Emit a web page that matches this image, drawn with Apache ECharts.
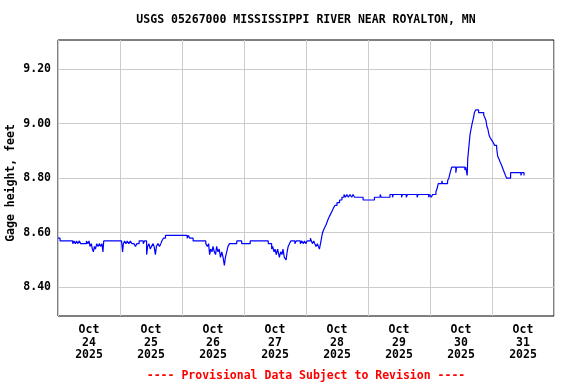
<!DOCTYPE html>
<html>
<head>
<meta charset="utf-8">
<script src="https://cdn.jsdelivr.net/npm/echarts@6/dist/echarts.min.js"></script>
<style>html,body{margin:0;padding:0;background:#fff}#c{width:576px;height:384px}</style>
</head>
<body>
<div id="c"></div>
<script>
// Categories (days), tick labels
var dayLabels = ['Oct\n24\n2025','Oct\n25\n2025','Oct\n26\n2025','Oct\n27\n2025','Oct\n28\n2025','Oct\n29\n2025','Oct\n30\n2025','Oct\n31\n2025'];
var yTicks = [8.40, 8.60, 8.80, 9.00, 9.20];

// Hours since Oct 24 2025 00:00 and gage height (feet)
var hours = [
0,0.8,5.7,6.2,6.7,7.2,7.6,8.3,8.8,9.5,11.0,11.6,12.0,12.4,12.9,13.3,13.7,14.1,14.5,15.0,15.5,16.0,16.6,17.0,17.4,17.7,
24.6,25.0,25.3,25.8,26.3,26.8,27.4,28.0,28.6,29.4,30.0,30.5,31.4,33.0,33.5,34.3,34.7,35.2,35.7,36.2,36.8,37.2,37.7,38.1,38.7,39.3,39.8,40.2,40.8,41.6,
50.0,50.5,51.0,52.3,57.2,57.8,58.3,58.7,59.1,59.6,60.0,60.5,61.0,61.4,61.9,62.4,62.9,63.4,63.9,64.4,64.8,65.3,65.8,66.4,69.2,71.1,74.4,81.4,
82.7,83.1,83.6,84.0,84.5,85.0,85.7,86.2,86.7,87.1,87.6,88.3,88.7,89.1,89.6,90.1,91.7,92.2,93.8,94.3,95.0,95.4,96.0,96.4,97.7,98.1,98.5,99.0,99.4,99.9,100.4,100.8,101.2,
101.6,102.0,102.4,102.8,103.3,103.8,104.2,104.6,105.1,105.6,106.1,106.6,107.2,108.0,109.0,109.9,110.7,111.3,111.8,112.4,113.0,113.7,114.2,114.8,118.1,122.5,124.7,125.1,
128.5,129.5,129.8,133.0,133.3,134.8,135.3,139.0,139.4,143.5,143.9,144.5,145.0,
146.3,146.7,147.2,148.6,148.9,150.8,151.3,151.8,152.4,154.0,154.3,157.5,157.8,158.2,158.4,158.6,158.9,159.2,159.5,159.9,160.3,160.8,161.2,161.7,
162.8,164.8,165.3,165.7,166.0,166.4,166.8,167.2,167.8,168.5,169.0,169.8,170.2,170.7,171.1,171.6,172.0,172.4,172.8,173.2,173.7,175.2,179.2,179.5,180.4
];
var stage = [
8.58,8.57,8.56,8.57,8.56,8.57,8.56,8.57,8.56,8.56,8.57,8.56,8.57,8.55,8.56,8.54,8.53,8.55,8.54,8.56,8.55,8.56,8.55,8.56,8.53,8.57,
8.57,8.53,8.56,8.57,8.56,8.57,8.56,8.57,8.56,8.56,8.55,8.56,8.57,8.56,8.57,8.52,8.55,8.56,8.54,8.55,8.56,8.55,8.52,8.55,8.56,8.55,8.56,8.57,8.58,8.59,
8.58,8.59,8.58,8.57,8.56,8.55,8.56,8.52,8.54,8.53,8.55,8.53,8.52,8.55,8.53,8.54,8.51,8.53,8.51,8.48,8.51,8.53,8.55,8.56,8.57,8.56,8.57,8.56,
8.54,8.55,8.53,8.54,8.52,8.54,8.51,8.53,8.52,8.54,8.51,8.50,8.53,8.55,8.56,8.57,8.56,8.57,8.56,8.57,8.56,8.57,8.56,8.57,8.58,8.57,8.56,8.57,8.56,8.55,8.56,8.55,8.54,
8.56,8.58,8.60,8.61,8.62,8.63,8.64,8.65,8.66,8.67,8.68,8.69,8.70,8.71,8.72,8.73,8.74,8.73,8.74,8.73,8.74,8.73,8.74,8.73,8.72,8.73,8.74,8.73,
8.74,8.73,8.74,8.73,8.74,8.73,8.74,8.73,8.74,8.73,8.74,8.73,8.74,
8.75,8.76,8.78,8.79,8.78,8.79,8.80,8.82,8.84,8.82,8.84,8.83,8.84,8.82,8.81,8.87,8.90,8.93,8.96,8.98,9.00,9.02,9.04,9.05,
9.04,9.03,9.02,9.01,8.99,8.98,8.96,8.95,8.94,8.93,8.92,8.91,8.88,8.87,8.86,8.85,8.84,8.83,8.82,8.81,8.80,8.82,8.81,8.82,8.81
];

var FONT = '"DejaVu Sans Mono", monospace';
var data = hours.map(function (h, i) { return [h, stage[i]]; });

var chart = echarts.init(document.getElementById('c'), null, {renderer: 'canvas'});
chart.setOption({
  animation: false,
  backgroundColor: '#ffffff',
  grid: {left: 58, right: 22, top: 40, bottom: 68, show: true, borderColor: '#000', borderWidth: 1, backgroundColor: 'transparent'},
  xAxis: [{
    type: 'category', data: dayLabels, boundaryGap: true,
    axisLine: {show: false}, axisTick: {show: false},
    splitLine: {show: true, interval: 0, lineStyle: {color: '#cccccc', width: 1}},
    axisLabel: {interval: 0, margin: 8, color: '#000', fontFamily: FONT, fontWeight: 'bold', fontSize: 11.5, lineHeight: 12.5}
  }, {
    type: 'value', min: 0, max: 192, show: false
  }],
  yAxis: {
    type: 'value', min: 8.295, max: 9.306,
    axisLine: {show: false},
    axisTick: {show: false, customValues: yTicks},
    splitLine: {show: true, lineStyle: {color: '#cccccc', width: 1}},
    axisLabel: {customValues: yTicks, margin: 7, color: '#000', fontFamily: FONT, fontWeight: 'bold', fontSize: 11.5,
      formatter: function (v) { return v.toFixed(2); }}
  },
  series: [{
    type: 'line', xAxisIndex: 1, data: data, step: 'end', showSymbol: false,
    lineStyle: {color: '#0000ff', width: 1.2}
  }],
  graphic: [
    {type: 'text', x: 306, y: 20, style: {text: 'USGS 05267000 MISSISSIPPI RIVER NEAR ROYALTON, MN', align: 'center', verticalAlign: 'middle', fill: '#000', font: 'bold 11.5px ' + FONT}},
    {type: 'text', x: 11, y: 183, rotation: Math.PI / 2, style: {text: 'Gage height, feet', align: 'center', verticalAlign: 'middle', fill: '#000', font: 'bold 11.5px ' + FONT}},
    {type: 'text', x: 306, y: 376, style: {text: '---- Provisional Data Subject to Revision ----', align: 'center', verticalAlign: 'middle', fill: '#ff0000', font: 'bold 11.5px ' + FONT}}
  ]
});
</script>
</body>
</html>
